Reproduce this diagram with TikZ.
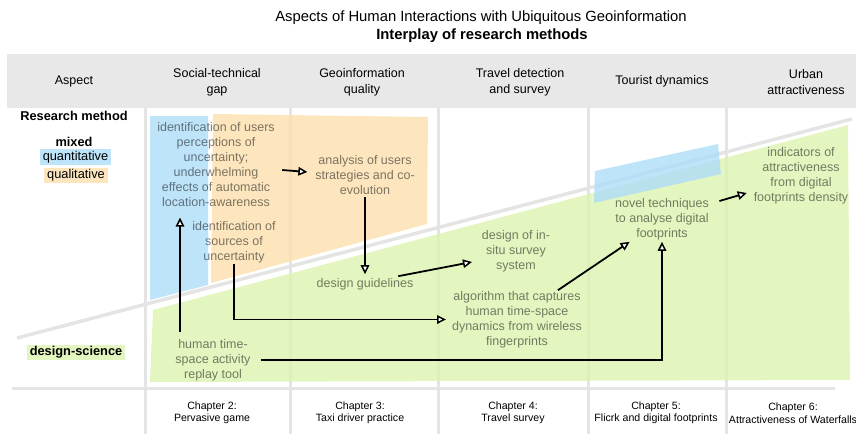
\documentclass[tikz,border=0pt]{standalone}
\usepackage{fontspec}
\setmainfont{Liberation Sans}
\usetikzlibrary{arrows.meta,calc}
\definecolor{hdr}{HTML}{E8E8E8}
\definecolor{gridc}{HTML}{E4E4E4}
\definecolor{gfill}{RGB}{221,244,176}
\definecolor{bfill}{RGB}{174,221,249}
\definecolor{ofill}{RGB}{252,224,174}
\definecolor{gsolid}{RGB}{228,246,192}
\definecolor{bsolid}{RGB}{190,228,250}
\definecolor{osolid}{RGB}{253,230,190}
\begin{document}
\begin{tikzpicture}[x=1pt,y=-1pt,
  hd/.style={align=center,font=\fontsize{12.5}{16}\selectfont},
  body/.style={align=center,font=\fontsize{12.5}{15}\selectfont,text=black,text opacity=0.5,inner sep=0pt,outer sep=0pt},
  chap/.style={align=center,font=\fontsize{10.6}{12.5}\selectfont},
  legend/.style={font=\fontsize{12.8}{15}\selectfont,inner xsep=3pt,inner ysep=1.5pt,text height=9.5pt,text depth=2.8pt},
  gridline/.style={draw=gridc,line width=3pt},
  region/.style={fill opacity=0.8},
  arr/.style={draw=black,line width=1.8pt,-{Triangle[fill=white,length=9pt,width=8.5pt,line width=1.5pt]}},
  ]
\useasboundingbox (0,0) rectangle (856,434);
% title
\node[font=\fontsize{14.8}{18}\selectfont] (title1) at (481,18) {Aspects of Human Interactions with Ubiquitous Geoinformation};
\node[font=\fontsize{14.8}{18}\selectfont\bfseries] (title2) at (482,36) {Interplay of research methods};
% header band
\fill[hdr] (7,54) rectangle (856,108);
\node[hd] (h0) at (74,81) {Aspect};
\node[hd] (h1) at (217,82) {Social-technical\\gap};
\node[hd] (h2) at (362,82) {Geoinformation\\quality};
\node[hd] (h3) at (520,82) {Travel detection\\and survey};
\node[hd] (h4) at (662,81) {Tourist dynamics};
\node[hd] (h5) at (806,82) {Urban\\attractiveness};
% grid lines
\foreach \x in {145,290,438,588,726} \draw[gridline] (\x,108) -- (\x,434);
\draw[gridline] (12,388) -- (835,388);
\draw[gridline,line width=3.5pt] (17,338) -- (852,119);
% regions
\fill[gfill,region] (153,310) -- (848,125) -- (850,380) -- (150,382) -- cycle;
\fill[bfill,region] (150,116) -- (208,116) -- (208,285) -- (150,300) -- cycle;
\fill[ofill,region] (213,114) -- (428,117) -- (427,224) -- (211,283) -- cycle;
\fill[bfill,region] (595,171) -- (718,144) -- (721,174) -- (594,203) -- cycle;
% legend
\node[font=\fontsize{12.8}{15}\selectfont\bfseries] (rm) at (74,116) {Research method};
\node[font=\fontsize{12.8}{15}\selectfont\bfseries] (mixed) at (74,142) {mixed};
\node[legend,fill=bsolid] (quant) at (75.5,157) {quantitative};
\node[legend,fill=osolid] (qual) at (76,175.5) {qualitative};
\node[legend,fill=gsolid,font=\fontsize{12.8}{15}\selectfont\bfseries] (ds) at (76,352.5) {design-science};
% body texts
\node[body] (t1) at (216,164.5) {identification of users\\perceptions of\\uncertainty;\\underwhelming\\effects of automatic\\location-awareness};
\node[body] (t2) at (234,242) {identification of\\sources of\\uncertainty};
\node[body] (t3) at (365,175) {analysis of users\\strategies and co-\\evolution};
\node[body] (t4) at (365,284) {design guidelines};
\node[body] (t5) at (516,251) {design of in-\\situ survey\\system};
\node[body] (t6) at (517,319.5) {algorithm that captures\\human time-space\\dynamics from wireless\\fingerprints};
\node[body] (t7) at (662,219) {novel techniques\\to analyse digital\\footprints};
\node[body] (t8) at (801,175.5) {indicators of\\attractiveness\\from digital\\footprints density};
\node[body] (t9) at (213,360) {human time-\\space activity\\replay tool};
% chapters
\node[chap] (c2) at (212,413) {Chapter 2:\\Pervasive game};
\node[chap] (c3) at (360,413) {Chapter 3:\\Taxi driver practice};
\node[chap] (c4) at (513,413) {Chapter 4:\\Travel survey};
\node[chap] (c5) at (656,413) {Chapter 5:\\Flicrk and digital footprints};
\node[chap] (c6) at (793,413) {Chapter 6:\\Attractiveness of Waterfalls};
% arrows
\coordinate (a1x) at (180,0);
\draw[arr,shorten <=7pt,shorten >=11pt] (t9.north -| a1x) -- (t1.south -| a1x);
\draw[arr,shorten <=1pt,shorten >=6pt] (t2.south) |- (t6.west);
\draw[arr] ([shift={(7.5,5.5)}]t1.east) -- ([shift={(-8,-3)}]t3.west);
\draw[arr,shorten <=2.5pt,shorten >=4pt] (t3.south) -- (t3.south |- t4.north);
\draw[arr] ([shift={(-15,-2)}]t4.north east) -- ([shift={(-10,11)}]t5.west);
\draw[arr] ([shift={(-24,-1)}]t6.north east) -- ([shift={(14.5,2)}]t7.south west);
\draw[arr,shorten <=10pt,shorten >=2pt] (t9.east) -| (t7.south);
\draw[arr] ([shift={(10.5,-18)}]t7.east) -- ([shift={(-7,17.5)}]t8.west);
\end{tikzpicture}
\end{document}
